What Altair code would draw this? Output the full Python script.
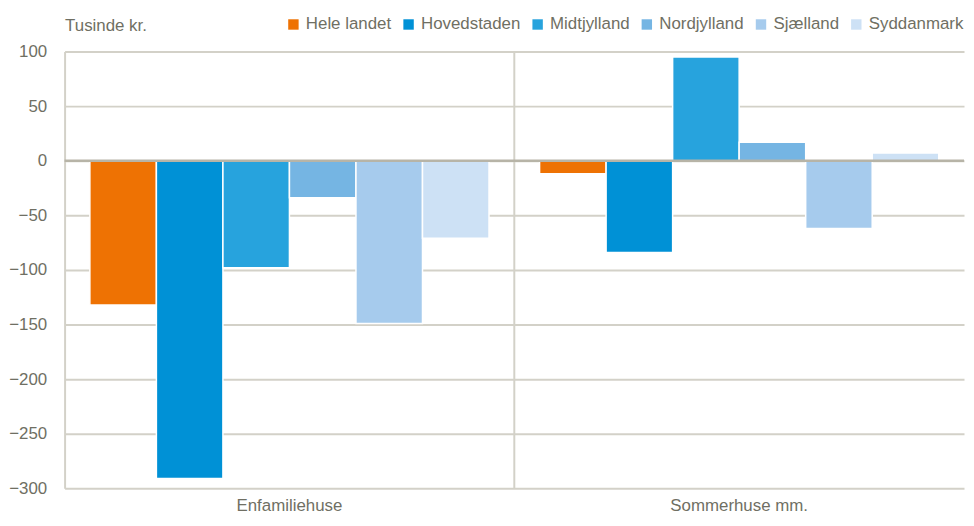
import altair as alt
import pandas as pd

categories = ["Enfamiliehuse", "Sommerhuse mm."]
series = ["Hele landet", "Hovedstaden", "Midtjylland", "Nordjylland", "Sjælland", "Syddanmark"]
colors = ["#EE7203", "#0091D6", "#27A3DD", "#75B5E3", "#A6CBED", "#CDE1F5"]
enfamiliehuse = [-132, -291, -98, -34, -149, -71]
sommerhuse = [-12, -84, 95, 17, -62, 7]
y_ticks = [100, 50, 0, -50, -100, -150, -200, -250, -300]

rows = []
for s, v in zip(series, enfamiliehuse):
    rows.append({"kategori": categories[0], "region": s, "værdi": v})
for s, v in zip(series, sommerhuse):
    rows.append({"kategori": categories[1], "region": s, "værdi": v})
df = pd.DataFrame(rows)

TXT = "#6f6f63"
GRID = "#d3d1c8"
NARROW = "Liberation Sans Narrow, Arial Narrow, Liberation Sans, Arial, sans-serif"

x_enc = alt.X("kategori:N", sort=categories, scale=alt.Scale(paddingInner=0, paddingOuter=0),
              axis=alt.Axis(title=None, labelAngle=0, labelFont=NARROW, labelFontSize=17,
                            labelColor=TXT, labelPadding=9, ticks=False, domain=False, grid=False))

bars = alt.Chart(df).mark_bar(stroke="white", strokeWidth=1.5).encode(
    x=x_enc,
    xOffset=alt.XOffset("region:N", sort=series, scale=alt.Scale(paddingInner=0, paddingOuter=0.38)),
    y=alt.Y("værdi:Q", scale=alt.Scale(domain=[-300, 100], nice=False),
            axis=alt.Axis(values=y_ticks, title="Tusinde kr.", titleAngle=0, titleAlign="left",
                          titleBaseline="bottom", titleX=0, titleY=-17, titleFont="Liberation Sans, Arial",
                          titleFontSize=17, titleFontWeight="normal", titleColor=TXT,
                          labelFont=NARROW, labelFontSize=17, labelColor=TXT, labelPadding=18,
                          ticks=False, domain=True, domainColor=GRID, domainWidth=2,
                          grid=True, gridColor=GRID, gridWidth=2)),
    color=alt.Color("region:N", sort=series,
                    scale=alt.Scale(domain=series, range=colors),
                    legend=alt.Legend(title=None, orient="none", direction="horizontal",
                                      legendX=222, legendY=-36, symbolType="square", symbolSize=110,
                                      symbolStrokeWidth=0, labelFont="Liberation Sans, Arial",
                                      labelFontSize=17, labelColor=TXT, columnPadding=8,
                                      symbolOffset=0, labelOffset=4)),
)

zero = alt.Chart(pd.DataFrame({"y": [0]})).mark_rule(color="#b7b4a7", strokeWidth=2.5).encode(y="y:Q")

sep = alt.Chart(pd.DataFrame({"kategori": [categories[1]]})).mark_rule(color=GRID, strokeWidth=2).encode(
    x=alt.X("kategori:N", sort=categories, bandPosition=0)
)

chart = alt.layer(bars, sep, zero).properties(
    width=906, height=440, padding={"top": 6, "left": 0, "right": 0, "bottom": 0}
).configure_view(stroke=None)

chart.save("out.html", embed_options={"renderer": "svg", "actions": False})
